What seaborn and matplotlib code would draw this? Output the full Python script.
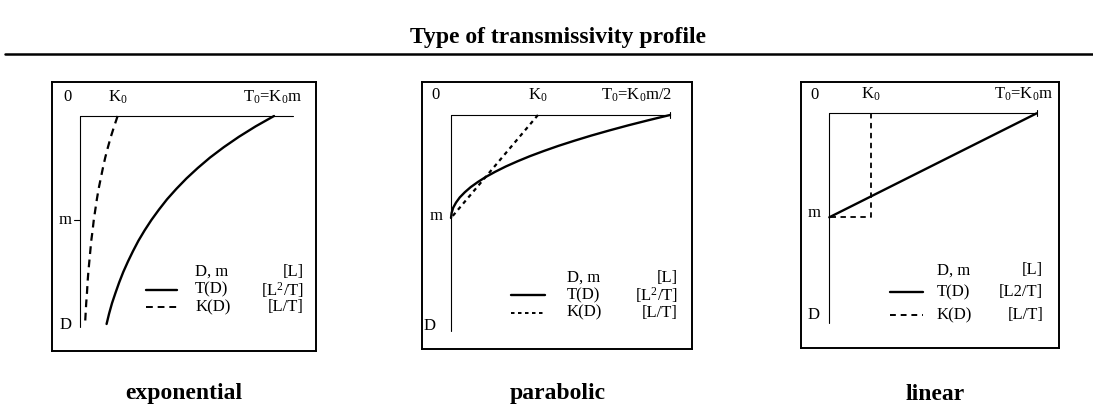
import numpy as np
import pandas as pd
import seaborn as sns
import matplotlib.pyplot as plt
from matplotlib.lines import Line2D

sns.set_theme(style="white")
plt.rcParams["font.family"] = ["Liberation Serif", "DejaVu Serif"]
plt.rcParams["mathtext.fontset"] = "custom"
plt.rcParams["mathtext.rm"] = "Liberation Serif"
plt.rcParams["mathtext.it"] = "Liberation Serif"
plt.rcParams["text.color"] = "black"

# depth in units of m, x in fractions of T0
exp_depth = [0.0, 0.1, 0.2, 0.3, 0.4, 0.5, 0.6, 0.7, 0.8, 0.9, 1.0,
             1.1, 1.2, 1.3, 1.4, 1.5, 1.6, 1.7, 1.8, 1.9, 2.0]
exp_T = [1.0, 0.905, 0.819, 0.741, 0.670, 0.607, 0.549, 0.497, 0.449, 0.407, 0.368,
         0.333, 0.301, 0.273, 0.247, 0.223, 0.202, 0.183, 0.165, 0.150, 0.137]
exp_K = [0.194, 0.176, 0.159, 0.144, 0.130, 0.118, 0.107, 0.096, 0.087, 0.079, 0.071,
         0.065, 0.058, 0.053, 0.048, 0.043, 0.039, 0.036, 0.032, 0.029, 0.026]

par_depth = [0.0, 0.05, 0.1, 0.15, 0.2, 0.25, 0.3, 0.35, 0.4, 0.45, 0.5,
             0.55, 0.6, 0.65, 0.7, 0.75, 0.8, 0.85, 0.9, 0.95, 1.0]
par_T = [1.0, 0.903, 0.81, 0.723, 0.64, 0.563, 0.49, 0.423, 0.36, 0.303, 0.25,
         0.203, 0.16, 0.123, 0.09, 0.063, 0.04, 0.023, 0.01, 0.003, 0.0]
par_Kd = [0.0, 1.0]
par_K = [0.397, 0.0]

lin_Td = [0.0, 1.0]
lin_T = [1.0, 0.0]
lin_Kd = [0.0, 1.0, 1.0]
lin_K = [0.2, 0.2, 0.0]

panel_names = ["exponential", "parabolic", "linear"]
t0_labels = [r"T$_0$=K$_0$m", r"T$_0$=K$_0$m/2", r"T$_0$=K$_0$m"]
k0_pos = [0.196, 0.397, 0.2]
unit_labels = [["[L]", r"[L$^2$/T]", "[L/T]"],
               ["[L]", r"[L$^2$/T]", "[L/T]"],
               ["[L]", "[L2/T]", "[L/T]"]]

W, H = 1093, 407
fig = plt.figure(figsize=(W / 100, H / 100), dpi=100)

# box in pixels, axis origin, T0 pixel, m pixel
boxes = [(52, 82, 316, 351), (422, 82, 692, 349), (801, 82, 1059, 348)]
origins = [(80, 116, 274, 220), (451, 115, 670, 218), (829.3, 113.3, 1036.7, 217.3)]

axes = []
for (l, t, r, b), (x0, y0, xt, ym) in zip(boxes, origins):
    ax = fig.add_axes([l / W, 1 - b / H, (r - l) / W, (b - t) / H])
    sx = xt - x0
    sy = ym - y0
    ax.set_xlim((l - x0) / sx, (r - x0) / sx)
    ax.set_ylim((b - y0) / sy, (t - y0) / sy)
    ax.set_xticks([])
    ax.set_yticks([])
    for s in ax.spines.values():
        s.set_color("black")
        s.set_linewidth(1.4)
    axes.append(ax)

fs = 12
line_kw = dict(color="black", estimator=None, sort=False, legend=False)

# exponential
ax = axes[0]
ax.plot([0, 0], [0, 2.03], color="black", lw=0.8)
ax.plot([0, 1.1], [0, 0], color="black", lw=0.8)
ax.plot([-0.03, 0], [1, 1], color="black", lw=0.8)
sns.lineplot(x=exp_T, y=exp_depth, ax=ax, lw=1.7, **line_kw)
sns.lineplot(x=exp_K, y=exp_depth, ax=ax, lw=1.6, linestyle=(0, (3.5, 2.5)), **line_kw)

# parabolic
ax = axes[1]
ax.plot([0, 0], [0, 2.1], color="black", lw=0.8)
ax.plot([0, 1.0], [0, 0], color="black", lw=0.8)
ax.plot([1.0, 1.0], [-0.03, 0.03], color="black", lw=0.8)
sns.lineplot(x=par_T, y=par_depth, ax=ax, lw=1.7, **line_kw)
sns.lineplot(x=par_K, y=par_Kd, ax=ax, lw=1.6, linestyle=(0, (1.8, 1.8)), **line_kw)

# linear
ax = axes[2]
ax.plot([0, 0], [0, 2.02], color="black", lw=0.8)
ax.plot([0, 1.0], [0, 0], color="black", lw=0.8)
ax.plot([1.0, 1.0], [-0.03, 0.03], color="black", lw=0.8)
sns.lineplot(x=lin_T, y=lin_Td, ax=ax, lw=1.7, **line_kw)
sns.lineplot(x=lin_K, y=lin_Kd, ax=ax, lw=1.3, linestyle=(0, (3, 2.5)), **line_kw)

# labels
zero_x = [-0.062, -0.073, -0.069]
top_y = [-0.18, -0.19, -0.18]
t0_right = [1.144, 1.012, 1.08]
m_pos = [(-0.075, 1.0), (-0.07, 0.98), (-0.074, 0.96)]
d_pos = [(-0.077, 2.01), (-0.1, 2.05), (-0.077, 1.94)]
leg_text_x = [0.593, 0.528, 0.518]
leg_line = [(0.34, 0.50), (0.276, 0.428), (0.293, 0.453)]
leg_unit_x = [1.155, 1.037, 1.032]
leg_rows = [(1.50, 1.67, 1.84), (1.58, 1.75, 1.92), (1.51, 1.72, 1.94)]
dash_styles = [(0, (3.5, 2.5)), (0, (1.8, 1.8)), (0, (3, 2.5))]

for i, ax in enumerate(axes):
    ax.text(zero_x[i], top_y[i], "0", fontsize=fs, ha="center", va="center")
    ax.text(k0_pos[i], top_y[i], r"K$_0$", fontsize=fs, ha="center", va="center")
    ax.text(t0_right[i], top_y[i], t0_labels[i], fontsize=fs, ha="right", va="center")
    ax.text(m_pos[i][0], m_pos[i][1], "m", fontsize=fs, ha="center", va="center")
    ax.text(d_pos[i][0], d_pos[i][1], "D", fontsize=fs, ha="center", va="center")
    r0, r1, r2 = leg_rows[i]
    for row, name, unit in zip(leg_rows[i], ["D, m", "T(D)", "K(D)"], unit_labels[i]):
        ax.text(leg_text_x[i], row, name, fontsize=fs, ha="left", va="center")
        ax.text(leg_unit_x[i], row, unit, fontsize=fs, ha="right", va="center")
    ax.plot(leg_line[i], [r1, r1], color="black", lw=1.7)
    ax.plot(leg_line[i], [r2, r2], color="black", lw=1.4, linestyle=dash_styles[i])

# title and rule
fig.text(558 / W, 1 - 38 / H, "Type of transmissivity profile", fontsize=17,
         fontweight="bold", ha="center", va="center")
fig.add_artist(Line2D([5 / W, 1.0], [1 - 54 / H, 1 - 54 / H], color="black", lw=1.8))

label_x = [184, 558, 935]
for name, lx in zip(panel_names, label_x):
    fig.text(lx / W, 1 - 394 / H, name, fontsize=17, fontweight="bold",
             ha="center", va="center")

fig.savefig("out.png", dpi=100, facecolor="white")
